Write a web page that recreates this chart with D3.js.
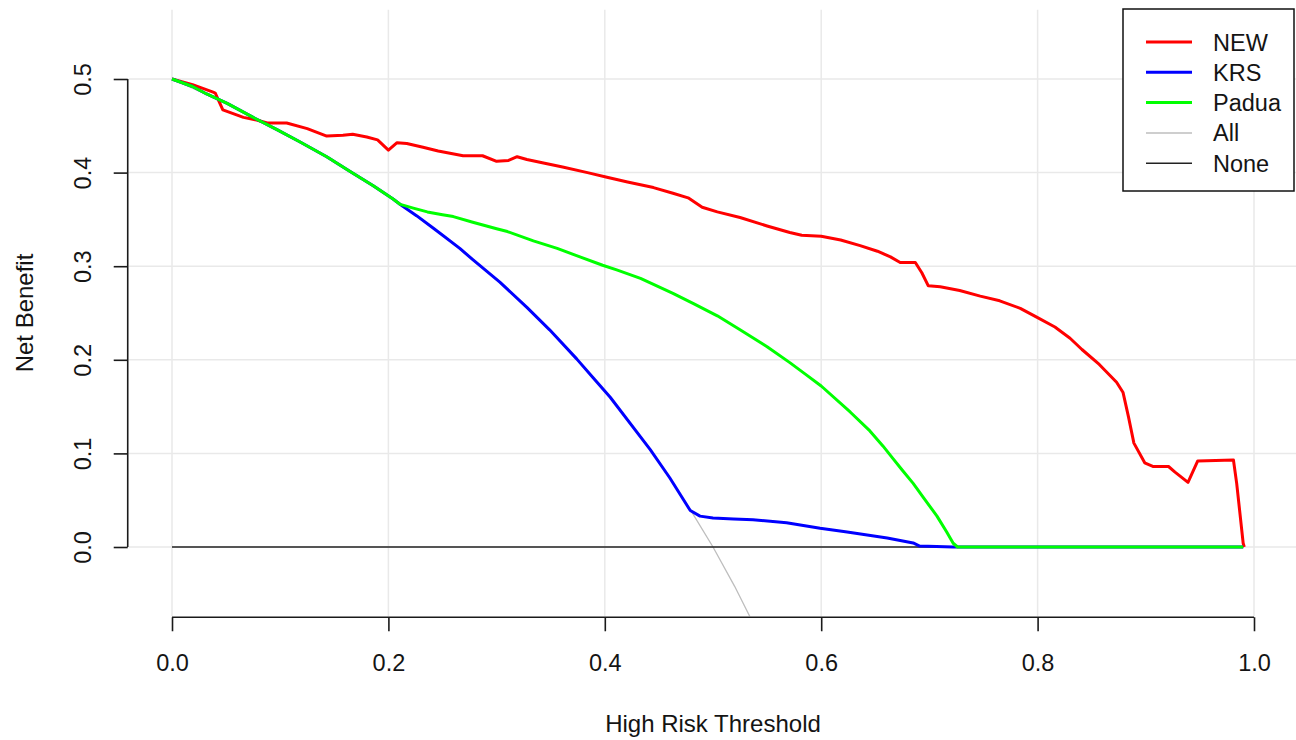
<!DOCTYPE html>
<html>
<head>
<meta charset="utf-8">
<script src="https://cdn.jsdelivr.net/npm/d3@7"></script>
<style>
  html, body { margin: 0; padding: 0; background: #fff; }
  svg { display: block; font-family: "Liberation Sans", Arial, sans-serif; }
</style>
</head>
<body>
<svg id="chart" width="1296" height="740"></svg>
<script>
// Decision curve: net benefit against the high-risk threshold
const xTicks = [0.0, 0.2, 0.4, 0.6, 0.8, 1.0];
const yTicks = [0.0, 0.1, 0.2, 0.3, 0.4, 0.5];
const xLabel = "High Risk Threshold";
const yLabel = "Net Benefit";

const seriesNames = ["NEW", "KRS", "Padua", "All", "None"];
const seriesColors = ["#ff0000", "#0000ff", "#00ff00", "#bebebe", "#222222"];

// [threshold, net benefit]
const newModel = [
  [0, 0.5], [0.019, 0.494], [0.038, 0.486], [0.040, 0.485], [0.047, 0.467],
  [0.054, 0.464], [0.066, 0.459], [0.079, 0.456], [0.088, 0.453], [0.106, 0.453],
  [0.125, 0.447], [0.143, 0.439], [0.158, 0.440], [0.167, 0.441], [0.180, 0.438],
  [0.190, 0.435], [0.200, 0.424], [0.208, 0.432], [0.217, 0.431], [0.232, 0.427],
  [0.246, 0.423], [0.269, 0.418], [0.287, 0.418], [0.300, 0.412], [0.311, 0.413],
  [0.319, 0.417], [0.328, 0.414], [0.340, 0.411], [0.361, 0.406], [0.384, 0.400],
  [0.402, 0.395], [0.421, 0.390], [0.445, 0.384], [0.463, 0.378], [0.477, 0.373],
  [0.490, 0.363], [0.504, 0.358], [0.525, 0.352], [0.550, 0.343], [0.571, 0.336],
  [0.582, 0.333], [0.600, 0.332], [0.618, 0.328], [0.636, 0.322], [0.652, 0.316],
  [0.664, 0.310], [0.673, 0.304], [0.687, 0.304], [0.693, 0.293], [0.699, 0.279],
  [0.710, 0.278], [0.728, 0.274], [0.747, 0.268], [0.765, 0.263], [0.784, 0.255],
  [0.800, 0.245], [0.816, 0.235], [0.830, 0.223], [0.841, 0.211], [0.857, 0.195],
  [0.873, 0.176], [0.879, 0.165], [0.884, 0.139], [0.889, 0.111], [0.899, 0.090],
  [0.907, 0.086], [0.921, 0.086], [0.927, 0.080], [0.939, 0.069], [0.948, 0.092],
  [0.981, 0.093], [0.984, 0.068], [0.990, 0.004], [0.991, 0.0]
];

const krs = [
  [0, 0.5], [0.019, 0.492], [0.032, 0.484], [0.051, 0.474], [0.075, 0.459],
  [0.097, 0.446], [0.118, 0.433], [0.143, 0.417], [0.165, 0.401], [0.186, 0.386],
  [0.204, 0.372], [0.211, 0.366], [0.226, 0.354], [0.241, 0.341], [0.248, 0.335],
  [0.266, 0.319], [0.278, 0.307], [0.303, 0.283], [0.328, 0.256], [0.349, 0.232],
  [0.374, 0.201], [0.389, 0.181], [0.405, 0.160], [0.442, 0.104], [0.460, 0.074],
  [0.479, 0.039], [0.488, 0.033], [0.500, 0.031], [0.519, 0.030], [0.537, 0.029],
  [0.568, 0.026], [0.599, 0.020], [0.624, 0.016], [0.661, 0.0096], [0.685, 0.0043],
  [0.691, 0.001], [0.722, 0.0], [0.99, 0.0]
];

const padua = [
  [0, 0.5], [0.019, 0.492], [0.032, 0.484], [0.051, 0.474], [0.075, 0.459],
  [0.097, 0.446], [0.118, 0.433], [0.143, 0.417], [0.165, 0.401], [0.186, 0.386],
  [0.204, 0.372], [0.211, 0.366], [0.223, 0.362], [0.236, 0.358], [0.250, 0.355],
  [0.260, 0.353], [0.278, 0.347], [0.300, 0.340], [0.310, 0.337], [0.334, 0.327],
  [0.356, 0.319], [0.377, 0.310], [0.398, 0.301], [0.411, 0.296], [0.433, 0.287],
  [0.463, 0.271], [0.482, 0.260], [0.504, 0.247], [0.525, 0.232], [0.550, 0.214],
  [0.571, 0.197], [0.585, 0.185], [0.600, 0.172], [0.627, 0.144], [0.645, 0.124],
  [0.657, 0.108], [0.666, 0.095], [0.675, 0.082], [0.685, 0.068], [0.695, 0.052],
  [0.707, 0.033], [0.716, 0.016], [0.722, 0.004], [0.726, 0.0], [0.99, 0.0]
];

const treatAll = [
  [0, 0.5], [0.05, 0.474], [0.1, 0.444], [0.15, 0.412], [0.2, 0.375],
  [0.25, 0.333], [0.3, 0.286], [0.35, 0.231], [0.4, 0.167], [0.42, 0.138],
  [0.45, 0.091], [0.48, 0.038], [0.5, 0.0], [0.52, -0.042], [0.55, -0.111]
];

const treatNone = [[0, 0], [0.99, 0]];

const svg = d3.select("#chart");

const x = d3.scaleLinear().domain([0, 1]).range([172, 1254]);
const y = d3.scaleLinear().domain([0, 0.5]).range([547, 79]);

// plotting region (limits padded by 4%, as in base graphics)
const usrX = [-0.04, 1.04];
const usrY = [-0.074, 0.574];
const px0 = x(usrX[0]), px1 = x(usrX[1]);
const py0 = y(usrY[1]), py1 = y(usrY[0]);

svg.append("defs").append("clipPath").attr("id", "plotclip")
  .append("rect")
  .attr("x", px0).attr("y", py0)
  .attr("width", px1 - px0).attr("height", py1 - py0);

// grid
const grid = svg.append("g").attr("stroke", "#e9e9e9").attr("stroke-width", 1.5);
grid.selectAll("line.v").data(xTicks).join("line")
  .attr("x1", d => x(d)).attr("x2", d => x(d))
  .attr("y1", py0).attr("y2", py1);
grid.selectAll("line.h").data(yTicks).join("line")
  .attr("x1", px0).attr("x2", px1)
  .attr("y1", d => y(d)).attr("y2", d => y(d));

// curves
const line = d3.line().x(d => x(d[0])).y(d => y(d[1]));
const curves = svg.append("g").attr("clip-path", "url(#plotclip)").attr("fill", "none")
  .attr("stroke-linejoin", "round").attr("stroke-linecap", "butt");

const drawOrder = [
  { data: treatAll, color: seriesColors[3], width: 1.3 },
  { data: treatNone, color: seriesColors[4], width: 1.6 },
  { data: newModel, color: seriesColors[0], width: 3 },
  { data: krs, color: seriesColors[1], width: 3 },
  { data: padua, color: seriesColors[2], width: 3 }
];
drawOrder.forEach(s => {
  curves.append("path").attr("d", line(s.data))
    .attr("stroke", s.color).attr("stroke-width", s.width);
});

// axes
const axisColor = "#1a1a1a";
const textColor = "#141414";
const fontSize = "23.5px";

const xAxis = d3.axisBottom(x).tickValues(xTicks).tickSize(14).tickFormat(d3.format(".1f"));
const gx = svg.append("g").attr("transform", `translate(0,${py1 + 1})`).call(xAxis);
gx.select(".domain").attr("stroke", axisColor).attr("stroke-width", 1.6)
  .attr("d", `M${x(0)},0H${x(1)}`);
gx.selectAll(".tick line").attr("stroke", axisColor).attr("stroke-width", 1.6);
gx.selectAll(".tick text").attr("fill", textColor).attr("font-size", fontSize)
  .attr("dy", null).attr("y", 54);
gx.attr("font-family", null);

const yAxis = d3.axisLeft(y).tickValues(yTicks).tickSize(14).tickFormat(d3.format(".1f"));
const gy = svg.append("g").attr("transform", `translate(${px0 - 1},0)`).call(yAxis);
gy.select(".domain").attr("stroke", axisColor).attr("stroke-width", 1.6)
  .attr("d", `M0,${y(0)}V${y(0.5)}`);
gy.selectAll(".tick line").attr("stroke", axisColor).attr("stroke-width", 1.6);
gy.selectAll(".tick text").attr("fill", textColor).attr("font-size", fontSize)
  .attr("x", null).attr("dy", null)
  .attr("text-anchor", "middle")
  .attr("transform", "translate(-37,0) rotate(-90)");
gy.attr("font-family", null);

// axis titles
svg.append("text")
  .attr("x", (px0 + px1) / 2).attr("y", 732)
  .attr("text-anchor", "middle").attr("font-size", "24px").attr("fill", textColor)
  .text(xLabel);
svg.append("text")
  .attr("transform", `translate(33,${(py0 + py1) / 2}) rotate(-90)`)
  .attr("text-anchor", "middle").attr("font-size", "24px").attr("fill", textColor)
  .text(yLabel);

// legend
const legend = svg.append("g");
legend.append("rect")
  .attr("x", 1123).attr("y", 9).attr("width", 171).attr("height", 182)
  .attr("fill", "#fff").attr("stroke", "#111").attr("stroke-width", 1.5);
const legendWidths = [3, 3, 3, 1.5, 1.6];
const rows = legend.selectAll("g.row").data(seriesNames).join("g")
  .attr("transform", (d, i) => `translate(0,${42 + i * 30.3})`);
rows.append("line")
  .attr("x1", 1146).attr("x2", 1192).attr("y1", 0).attr("y2", 0)
  .attr("stroke", (d, i) => seriesColors[i])
  .attr("stroke-width", (d, i) => legendWidths[i]);
rows.append("text")
  .attr("x", 1213).attr("y", 8.5)
  .attr("font-size", fontSize).attr("fill", textColor)
  .text(d => d);
</script>
</body>
</html>
